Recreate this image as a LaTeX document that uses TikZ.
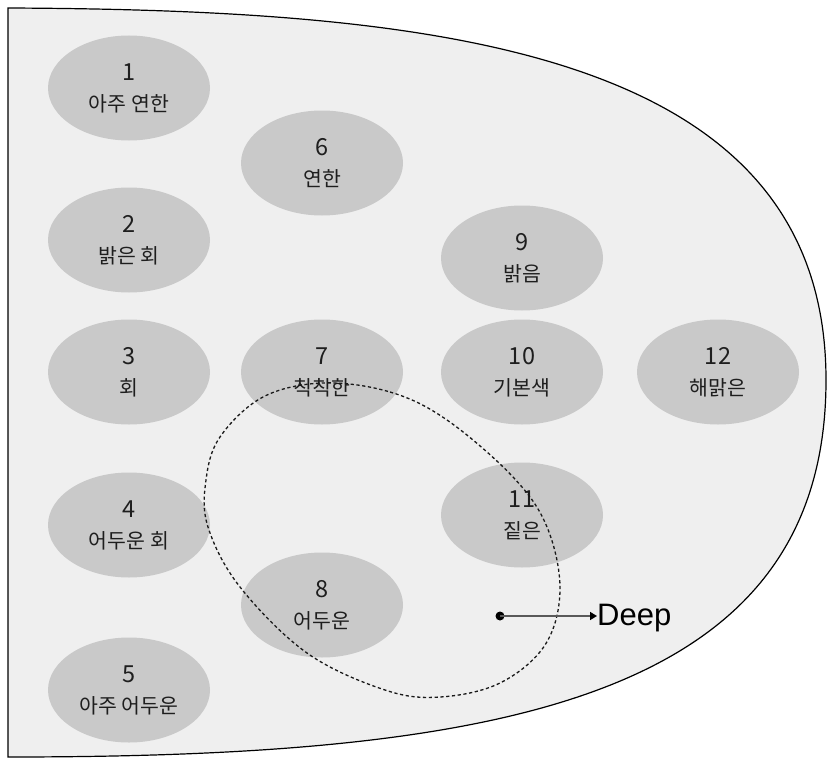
\documentclass[tikz,border=0pt]{standalone}
\usepackage{fontspec}
\newfontfamily\kr{Noto Sans CJK KR}
\newfontfamily\lat{Liberation Sans}
\usetikzlibrary{shapes.geometric,arrows.meta}
\definecolor{paper}{HTML}{EFEFEF}
\definecolor{blob}{HTML}{C9C9C9}
\definecolor{ink}{HTML}{1E1E1E}
% number on top, name below
\newcommand{\tonelabel}[2]{{\fontsize{23.5}{31}\selectfont #1}\\#2}
\tikzset{
  tone/.style={ellipse, fill=blob, draw=none, minimum width=162pt,
    minimum height=105pt, inner sep=0pt, align=center, text=ink,
    font=\kr\fontsize{20.5}{31}\selectfont},
  outline/.style={draw=black, line width=1.2pt, fill=paper},
  group/.style={draw=black!90, line width=1.3pt, dash pattern=on 3.2pt off 2.6pt},
  pointer/.style={draw=black!65, line width=1.6pt,
    -{Triangle[length=7pt,width=8pt,color=black]}}
}
\begin{document}
\begin{tikzpicture}[x=1pt,y=-1pt]
\useasboundingbox (0,0) rectangle (827,760);

% outer region: straight left side, rounded right side
\path[outline] (8,757) -- (8,8)
  .. controls (440,10) and (826,50) .. (826,380)
  .. controls (826,700) and (500,757) .. (8,757) -- cycle;

% tone ellipses
\node[tone] (t1)  at (129,88)  {\tonelabel{1}{아주 연한}};
\node[tone] (t2)  at (129,240) {\tonelabel{2}{밝은 회}};
\node[tone] (t3)  at (129,372) {\tonelabel{3}{회}};
\node[tone] (t4)  at (129,525) {\tonelabel{4}{어두운 회}};
\node[tone] (t5)  at (129,690) {\tonelabel{5}{아주 어두운}};
\node[tone] (t6)  at (322,163) {\tonelabel{6}{연한}};
\node[tone] (t7)  at (322,372) {\tonelabel{7}{칙칙한}};
\node[tone] (t8)  at (322,605) {\tonelabel{8}{어두운}};
\node[tone] (t9)  at (522,258) {\tonelabel{9}{밝음}};
\node[tone] (t10) at (522,372) {\tonelabel{10}{기본색}};
\node[tone] (t11) at (522,515) {\tonelabel{11}{짙은}};
\node[tone] (t12) at (718,372) {\tonelabel{12}{해맑은}};

% dashed grouping loop
\draw[group] plot[smooth cycle, tension=0.6] coordinates {
  (323,383) (390,392) (447,420) (513,477) (547,527) (560,590)
  (545,645) (500,683) (440,697) (385,690) (307,653) (240,587)
  (208,527) (206,480) (220,437) (263,397)};

% direction marker
\coordinate (from) at (500,616);
\fill[black] (from) circle (4.5pt);
\node[anchor=west, inner sep=0pt, font=\lat\fontsize{31}{31}\selectfont] (deep) at (597,618) {Deep};
\draw[pointer] (from) -- (from -| deep.west);
\end{tikzpicture}
\end{document}
